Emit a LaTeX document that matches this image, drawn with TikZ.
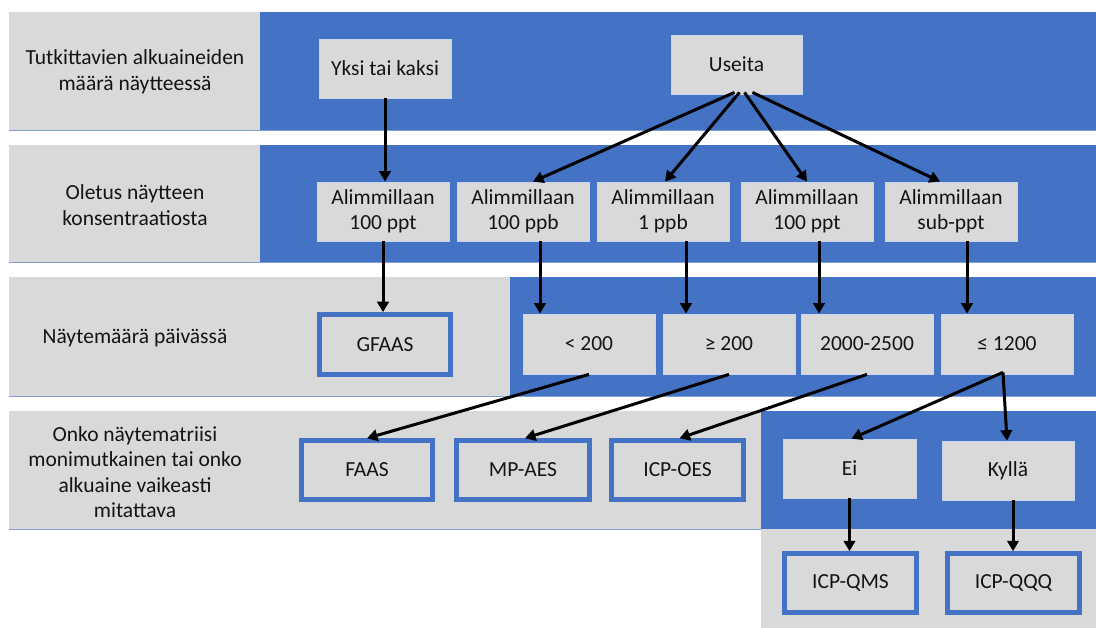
\documentclass[tikz,border=0pt]{standalone}
\usepackage{fontspec}
\setmainfont{Carlito}
\usetikzlibrary{arrows.meta}
\definecolor{obl}{HTML}{4472C4}
\definecolor{ogr}{HTML}{D9D9D9}
\definecolor{oln}{HTML}{7F9ED6}
\definecolor{obd}{HTML}{C9D5EC}
\definecolor{otx}{HTML}{141414}
\tikzset{
  band/.style={fill=ogr},
  bluearea/.style={fill=obl},
  rowline/.style={draw=oln, line width=1pt},
  dbox/.style={fill=ogr, draw=obd, line width=0.8pt, minimum width=132pt, minimum height=59pt,
    inner sep=0pt, align=center, font=\fontsize{21.5}{25.5}\selectfont, text=otx},
  finalbox/.style={dbox, draw=obl, line width=4.5pt, minimum width=131pt, minimum height=60pt},
  lbl/.style={align=center, font=\fontsize{21.5}{25.5}\selectfont, text=otx, inner sep=0pt},
  arr/.style={-{Triangle[length=10.5pt,width=11.5pt]}, line width=3pt, black},
}
\begin{document}
\begin{tikzpicture}[x=1pt,y=-1pt]
\useasboundingbox (0,0) rectangle (1096,628);
\fill[white] (0,0) rectangle (1096,628);
% bands
\fill[band] (9,12) rectangle (1096,131);
\fill[bluearea] (260,12) rectangle (1096,131);
\draw[rowline] (9,131) -- (1096,131);
\fill[band] (9,145) rectangle (1096,263);
\fill[bluearea] (260,145) rectangle (1096,263);
\draw[rowline] (9,263) -- (1096,263);
\fill[band] (9,277) rectangle (1096,397);
\fill[bluearea] (510,277) rectangle (1096,397);
\draw[rowline] (9,397) -- (1096,397);
\fill[band] (9,411) rectangle (761,529);
\fill[bluearea] (761,411) rectangle (1096,529);
\draw[rowline] (9,529) -- (761,529);
\fill[band] (761,529) rectangle (1096,628);

% left labels
\node[lbl] (l1) at (135,72) {Tutkittavien alkuaineiden\\määrä näytteessä};
\node[lbl] (l2) at (135,205) {Oletus näytteen\\konsentraatiosta};
\node[lbl] (l3) at (135,338) {Näytemäärä päivässä};
\node[lbl] (l4) at (135,472) {Onko näytematriisi\\monimutkainen tai onko\\alkuaine vaikeasti\\mitattava};

% row 1
\node[dbox] (yksi) at (385,68.5) {Yksi tai kaksi};
\node[dbox, minimum width=131pt] (useita) at (736.5,64.5) {Useita};

% row 2
\node[dbox] (a1) at (383,211.5) {Alimmillaan\\100 ppt};
\node[dbox] (a2) at (523,211.5) {Alimmillaan\\100 ppb};
\node[dbox] (a3) at (663,211.5) {Alimmillaan\\1 ppb};
\node[dbox] (a4) at (807,211.5) {Alimmillaan\\100 ppt};
\node[dbox] (a5) at (951,211.5) {Alimmillaan\\sub-ppt};

% row 3
\node[finalbox] (gfaas) at (385,344.5) {GFAAS};
\node[dbox, minimum height=60pt] (lt) at (589,344) {< 200};
\node[dbox, minimum height=60pt] (ge) at (729,344) {≥ 200};
\node[dbox, minimum height=60pt] (rng) at (867,344) {2000-2500};
\node[dbox, minimum height=60pt] (le) at (1007,344) {≤ 1200};

% row 4
\node[finalbox, minimum height=59pt] (faas) at (367,470) {FAAS};
\node[finalbox, minimum width=133pt, minimum height=59pt] (mpaes) at (523,470) {MP-AES};
\node[finalbox, minimum width=132pt, minimum height=59pt] (icpoes) at (677.5,470) {ICP-OES};
\node[dbox, minimum width=133pt] (ei) at (849.5,468.5) {Ei};
\node[dbox] (kylla) at (1008,470.5) {Kyllä};

% row 5
\node[finalbox, minimum width=132pt, minimum height=59pt] (qms) at (850.5,583) {ICP-QMS};
\node[finalbox, minimum width=132pt, minimum height=59pt] (qqq) at (1013.5,583) {ICP-QQQ};

% arrows
\draw[arr] (yksi.south) -- (yksi.south |- a1.north);
\draw[arr] ([xshift=-2pt,yshift=2pt]useita.south) -- ([xshift=10pt]a2.north);
\draw[arr] ([xshift=3pt,yshift=2pt]useita.south) -- ([xshift=2pt]a3.north);
\draw[arr] ([xshift=8pt,yshift=2pt]useita.south) -- (a4.north);
\draw[arr] ([xshift=16pt,yshift=2pt]useita.south) -- ([xshift=-11pt]a5.north);

\draw[arr] (a1.south) -- (a1.south |- gfaas.north);
\draw[arr] ([xshift=17pt]a2.south) -- ([xshift=17pt]a2.south |- lt.north);
\draw[arr] ([xshift=23pt]a3.south) -- ([xshift=23pt]a3.south |- ge.north);
\draw[arr] ([xshift=12pt]a4.south) -- ([xshift=12pt]a4.south |- rng.north);
\draw[arr] ([xshift=16pt]a5.south) -- ([xshift=16pt]a5.south |- le.north);

\draw[arr] (lt.south) -- (faas.north);
\draw[arr] (ge.south) -- ([xshift=2pt]mpaes.north);
\draw[arr] (rng.south) -- ([xshift=2pt]icpoes.north);
\coordinate (lesplit) at ([xshift=-4pt,yshift=2pt]le.south);
\draw[arr] (lesplit) -- ([xshift=2pt]ei.north);
\draw[arr] (lesplit) -- ([xshift=-1pt]kylla.north);

\draw[arr] (ei.south) -- (ei.south |- qms.north);
\draw[arr] ([xshift=5pt]kylla.south) -- ([xshift=5pt]kylla.south |- qqq.north);
\end{tikzpicture}
\end{document}
